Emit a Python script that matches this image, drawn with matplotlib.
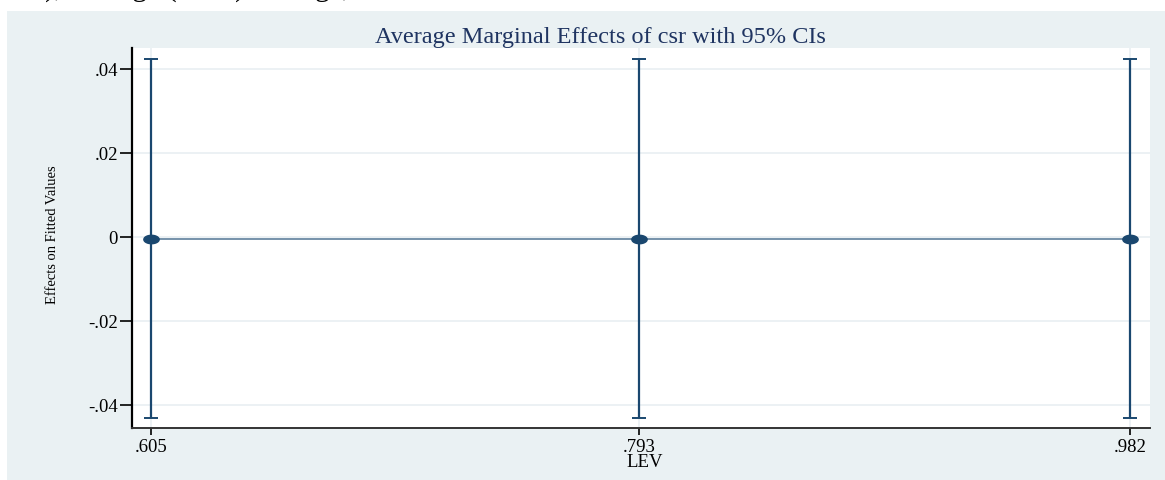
import numpy as np
import matplotlib
matplotlib.use("Agg")
import matplotlib.pyplot as plt
from matplotlib.patches import Rectangle
from matplotlib.path import Path

# ---- data ----
lev_values = [0.605, 0.793, 0.982]
effects = [-0.0005, -0.0005, -0.0005]
ci_lower = [-0.0431, -0.0431, -0.0431]
ci_upper = [0.0424, 0.0424, 0.0424]
xtick_labels = [".605", ".793", ".982"]
yticks = [-0.04, -0.02, 0.0, 0.02, 0.04]
ytick_labels = ["-.04", "-.02", "0", ".02", ".04"]
title = "Average Marginal Effects of csr with 95% CIs"
xlabel = "LEV"
ylabel = "Effects on Fitted Values"

W, H = 1165, 481
serif = ["Liberation Serif", "DejaVu Serif"]
navy = "#1a476f"
bg = "#eaf1f3"

fig = plt.figure(figsize=(W / 100, H / 100), dpi=100, facecolor="white")

# graph region background
fig.patches.append(Rectangle((7 / W, 0), 1 - 7 / W, (H - 12) / H,
                             transform=fig.transFigure, facecolor=bg,
                             edgecolor="none", zorder=-5))

# cut-off document text at the very top
fig.text(45 / W, (H + 4) / H, "), average (2019) average,", family=serif,
         fontsize=21, va="baseline", ha="left", color="black", zorder=-4)

ax = fig.add_axes([132 / W, (H - 429) / H, (1150 - 132) / W, (429 - 49) / H])
ax.set_zorder(2)
ax.set_facecolor("white")

# ellipse marker (horizontally stretched circle)
t = np.linspace(0, 2 * np.pi, 60)
ell = Path(np.column_stack([np.cos(t) * 1.0, np.sin(t) * 0.55]), closed=True)

x = np.array(lev_values)
y = np.array(effects)
lo = np.array(ci_lower)
hi = np.array(ci_upper)

ax.plot(x, y, color="#5f7f9c", lw=1.2, zorder=3)
ax.errorbar(x, y, yerr=[y - lo, hi - y], fmt="none", ecolor=navy,
            elinewidth=1.6, capsize=5, capthick=1.4, zorder=4)
ax.plot(x, y, linestyle="none", marker=ell, markersize=11,
        color=navy, markeredgecolor=navy, zorder=5)

ax.set_xlim(0.5977, 0.9897)
ax.set_ylim(-0.0455, 0.045)

ax.set_xticks(lev_values)
ax.set_xticklabels(xtick_labels, family=serif, fontsize=13.5)
ax.set_yticks(yticks)
ax.set_yticklabels(ytick_labels, family=serif, fontsize=13.5)
ax.tick_params(axis="y", length=9, width=1.2, pad=1, color="black")
ax.tick_params(axis="x", length=5, width=1.2, pad=2, color="black")

ax.grid(True, color="#e9eff2", lw=1.2, zorder=0)
ax.set_axisbelow(True)

for s in ["top", "right"]:
    ax.spines[s].set_visible(False)
ax.spines["left"].set_linewidth(1.6)
ax.spines["left"].set_color("black")
ax.spines["bottom"].set_linewidth(1.4)
ax.spines["bottom"].set_color("#333333")

fig.text(600 / W, (H - 38) / H, title, family=serif, fontsize=17.5,
         color="#1f3461", ha="center", va="center")
fig.text(645 / W, (H - 463) / H, xlabel, family=serif, fontsize=13.5,
         color="black", ha="center", va="center")
fig.text(53 / W, (H - 235) / H, ylabel, family=serif, fontsize=10.5,
         color="black", ha="center", va="center", rotation=90)

fig.savefig("out.png", dpi=100, facecolor="white")
